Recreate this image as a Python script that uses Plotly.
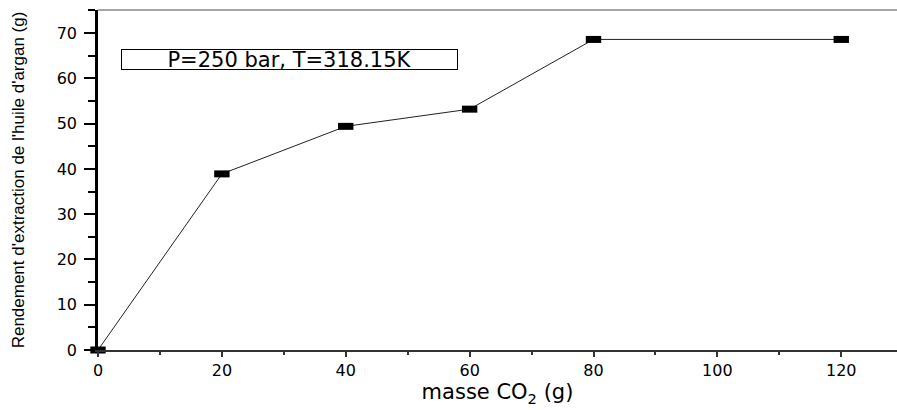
import plotly.graph_objects as go

masse_co2 = [0, 20, 40, 60, 80, 120]
rendement = [0, 38.9, 49.4, 53.2, 68.6, 68.6]
x_ticks = [0, 20, 40, 60, 80, 100, 120]
y_ticks = [0, 10, 20, 30, 40, 50, 60, 70]

wide = "DejaVu Sans, Liberation Sans, Arial, sans-serif"

fig = go.Figure()
fig.add_trace(go.Scatter(
    x=masse_co2, y=rendement, mode="lines+markers",
    line=dict(color="#222", width=1),
    marker=dict(symbol="line-ew", size=11, color="black",
                line=dict(color="black", width=7)),
    cliponaxis=False, showlegend=False,
))

fig.add_annotation(
    x=0.029, y=0.855, xref="paper", yref="paper", xanchor="left", yanchor="middle",
    text="P=250 bar, T=318.15K", showarrow=False,
    font=dict(family=wide, size=21, color="black"),
    bordercolor="black", borderwidth=1, borderpad=0, bgcolor="white",
    width=335, height=19,
)

fig.update_layout(
    width=897, height=410,
    margin=dict(l=98, r=0, t=10, b=60),
    plot_bgcolor="white", paper_bgcolor="white",
    font=dict(family=wide, color="black"),
    xaxis=dict(
        range=[0, 129], tickvals=x_ticks, ticks="outside", ticklen=5, tickwidth=2,
        tickcolor="#333", showgrid=False, zeroline=False,
        showline=True, linecolor="#333", linewidth=2, mirror=False,
        tickfont=dict(size=16, family=wide),
        minor=dict(dtick=10, ticks="outside", ticklen=3, tickwidth=2, tickcolor="#333"),
        title=dict(text="masse CO<sub>2</sub> (g)", font=dict(size=21, family=wide), standoff=5),
    ),
    yaxis=dict(
        range=[0, 75.1], tickvals=y_ticks, ticks="outside", ticklen=11, tickwidth=2,
        tickcolor="black", showgrid=False, zeroline=False,
        showline=True, linecolor="black", linewidth=2.5, mirror=False,
        tickfont=dict(size=16, family=wide), ticklabelstandoff=4,
        minor=dict(dtick=5, ticks="outside", ticklen=7, tickwidth=2, tickcolor="black"),
        title=dict(text="Rendement d'extraction de l'huile d'argan (g)",
                   font=dict(size=17, family="Liberation Sans, Arial, sans-serif"),
                   standoff=28),
    ),
)
# top frame line
fig.add_shape(type="line", xref="paper", yref="paper", x0=0, x1=1, y0=1, y1=1,
              line=dict(color="#888", width=1.5))

fig.write_html("out.html")
